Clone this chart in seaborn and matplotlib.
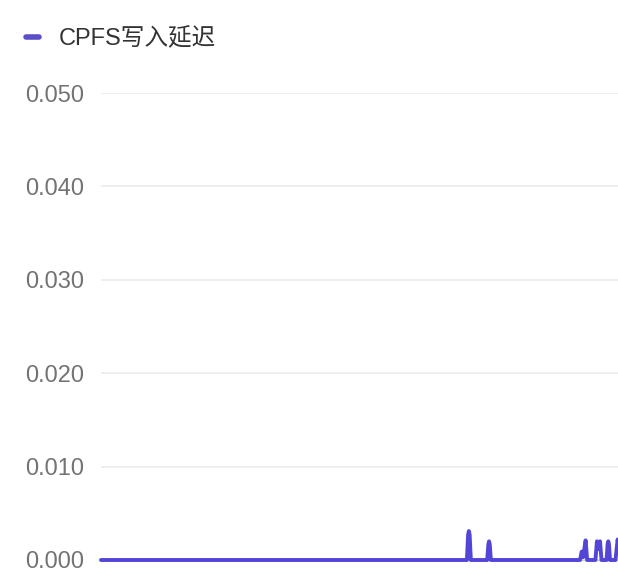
import matplotlib
matplotlib.use("Agg")
import matplotlib.pyplot as plt
import seaborn as sns
import pandas as pd

# Data (time in arbitrary units, 10 units per x tick)
times = [0.0, 33.57, 33.68, 33.75, 33.82, 33.93,
         35.43, 35.54, 35.6, 35.66, 35.77,
         43.95, 44.1, 44.24, 44.33, 44.46, 44.6,
         45.36, 45.5, 45.64, 45.78, 45.92,
         46.38, 46.48, 46.54, 46.6, 46.7,
         47.2, 47.4, 47.6, 48.0]
values = [0.0, 0.0, 0.0027, 0.0031, 0.0027, 0.0,
          0.0, 0.0017, 0.0020, 0.0017, 0.0,
          0.0, 0.0009, 0.0003, 0.0011, 0.0021, 0.0,
          0.0, 0.0020, 0.0012, 0.0020, 0.0,
          0.0, 0.0017, 0.0020, 0.0017, 0.0,
          0.0, 0.0022, 0.0, 0.0]
series_name = "CPFS写入延迟"
y_ticks = [0.0, 0.01, 0.02, 0.03, 0.04, 0.05]
x_ticks = [0, 10, 20, 30, 40, 50]

df = pd.DataFrame({"t": times, "v": values})

sns.set_theme(style="white")
plt.rcParams["font.family"] = ["Liberation Sans", "Noto Sans CJK SC", "DejaVu Sans"]

W, H = 618, 574
fig = plt.figure(figsize=(W / 100, H / 100), dpi=100)
fig.patch.set_facecolor("white")

left_px, right_px = 101, 101 + 60 * 10.9
top_px, bottom_px = 93, 560
ax = fig.add_axes([left_px / W, 1 - bottom_px / H,
                   (right_px - left_px) / W, (bottom_px - top_px) / H])

line_color = "#5245d8"
sns.lineplot(data=df, x="t", y="v", ax=ax, color=line_color, linewidth=2.8,
             label=series_name, estimator=None, zorder=4)
for l in ax.lines:
    l.set_clip_on(False)
    l.set_solid_joinstyle("round")

ax.set_xlim(0, 60)
ax.set_ylim(0, 0.05)
ax.set_yticks(y_ticks)
ax.set_yticklabels([f"{v:.3f}" for v in y_ticks])
ax.set_xticks(x_ticks)
ax.set_xticklabels([])
ax.set_xlabel("")
ax.set_ylabel("")
ax.yaxis.grid(True, color="#ebebeb", linewidth=1.2)
ax.set_axisbelow(True)
for s in ["top", "right", "left"]:
    ax.spines[s].set_visible(False)
ax.spines["bottom"].set_color("#d0d0d0")
ax.spines["bottom"].set_linewidth(1)
ax.tick_params(axis="y", length=0, pad=12, labelsize=17, labelcolor="#737373")
ax.tick_params(axis="x", length=6, width=1.2, color="#c8c8c8", direction="out")

ax.get_legend().remove()
handle = plt.Line2D([], [], color="#5b4fc9", linewidth=4, solid_capstyle="round")
fig.legend([handle], [series_name], loc="center left",
           bbox_to_anchor=(26 / W, 1 - 39 / H), frameon=False,
           handlelength=0.55, handletextpad=0.85, borderpad=0, borderaxespad=0,
           prop={"size": 17}, labelcolor="#333333")

fig.savefig("out.png", dpi=100, facecolor="white")
